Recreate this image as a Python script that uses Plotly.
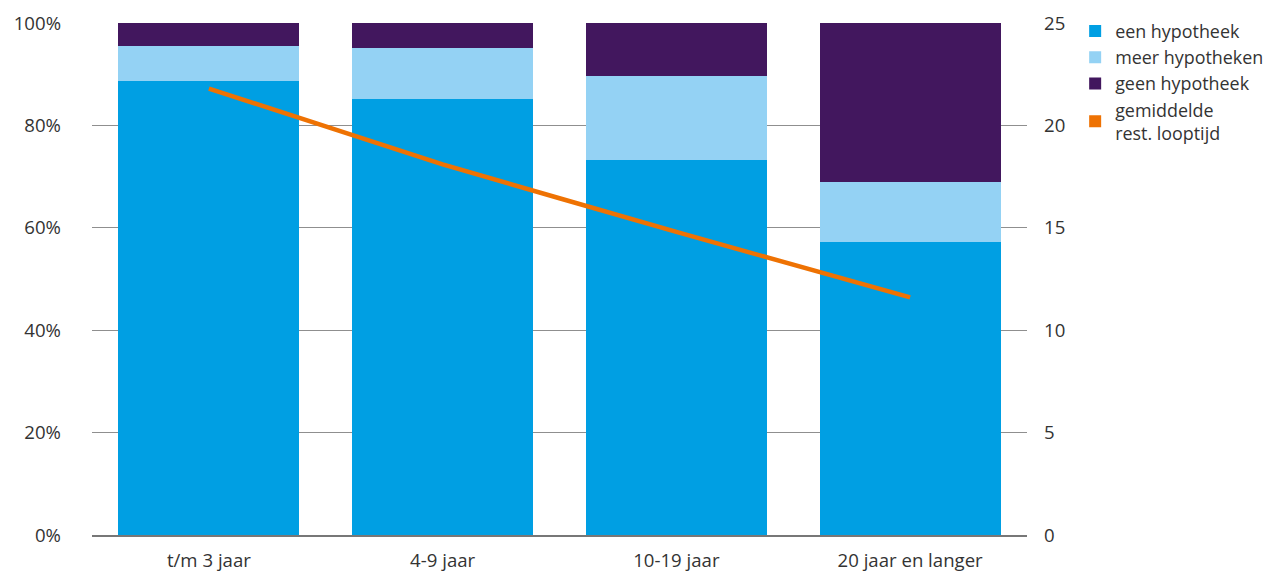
import plotly.graph_objects as go

categories = ["t/m 3 jaar", "4-9 jaar", "10-19 jaar", "20 jaar en langer"]
een_hypotheek = [88.6, 85.1, 73.3, 57.3]
meer_hypotheken = [7.0, 10.1, 16.4, 11.7]
geen_hypotheek = [4.4, 4.8, 10.3, 31.0]
rest_looptijd = [21.8, 18.1, 14.8, 11.6]

left_ticks = [0, 20, 40, 60, 80, 100]
left_labels = ["0%", "20%", "40%", "60%", "80%", "100%"]
right_ticks = [0, 5, 10, 15, 20, 25]

C_EEN = "#009FE3"
C_MEER = "#94D2F4"
C_GEEN = "#42175E"
C_ORANGE = "#EE7203"
FONT = "Open Sans"
TXT = "#333333"
FS = 18.6
FS_LEG = 17.9

fig = go.Figure()
fig.add_trace(go.Bar(x=categories, y=een_hypotheek, name="een hypotheek", marker=dict(color=C_EEN, line=dict(width=0))))
fig.add_trace(go.Bar(x=categories, y=meer_hypotheken, name="meer hypotheken", marker=dict(color=C_MEER, line=dict(width=0))))
fig.add_trace(go.Bar(x=categories, y=geen_hypotheek, name="geen hypotheek", marker=dict(color=C_GEEN, line=dict(width=0))))
fig.add_trace(go.Scatter(x=categories, y=rest_looptijd, yaxis="y2", mode="lines",
                         line=dict(color=C_ORANGE, width=4.5, shape="spline", smoothing=0.3),
                         showlegend=False, name="gemiddelde<br>rest. looptijd"))
# legend swatch (square) for the line series
fig.add_trace(go.Bar(x=[None], y=[None], name="gemiddelde<br>rest. looptijd",
                     marker=dict(color=C_ORANGE, line=dict(width=0))))

fig.update_layout(
    width=1265, height=563,
    margin=dict(l=84, r=245.5, t=15, b=35.5, autoexpand=False),
    barmode="stack", bargap=0.226,
    plot_bgcolor="white", paper_bgcolor="white",
    font=dict(family=FONT, size=FS, color=TXT),
    xaxis=dict(showgrid=False, showline=True, linecolor="#777777", linewidth=1.5,
               ticks="", ticklabelstandoff=8, automargin=False,
               tickfont=dict(size=FS, color=TXT)),
    yaxis=dict(range=[0, 100], tickvals=left_ticks, ticktext=left_labels,
               showgrid=True, gridcolor="#8f8f8f", gridwidth=1.4, zeroline=False,
               showline=False, ticks="", ticklabelstandoff=30, automargin=False,
               tickfont=dict(size=FS, color=TXT)),
    yaxis2=dict(range=[0, 25], tickvals=right_ticks, overlaying="y", side="right",
                showgrid=False, zeroline=False, showline=False, ticks="",
                ticklabelstandoff=16, automargin=False,
                tickfont=dict(size=FS, color=TXT)),
    legend=dict(x=1.0515, y=1.02, xanchor="left", yanchor="top", traceorder="normal",
                font=dict(size=FS_LEG, color=TXT), itemwidth=30, tracegroupgap=0,
                bgcolor="rgba(0,0,0,0)"),
)

fig.write_html("out.html")
